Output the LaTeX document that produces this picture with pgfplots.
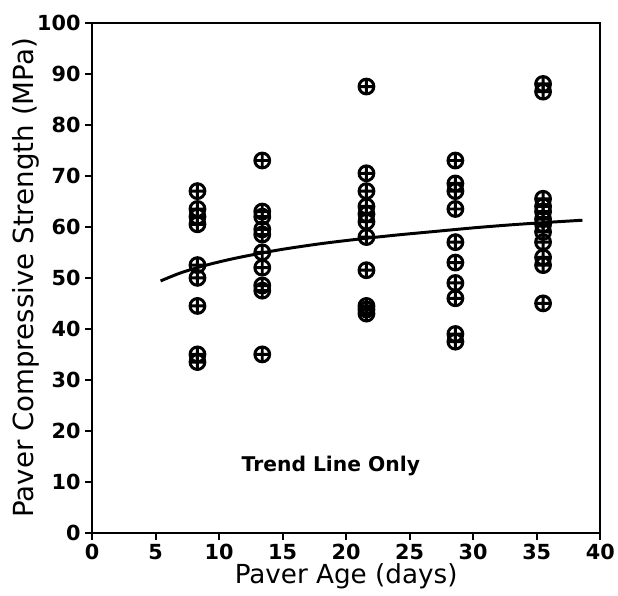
\documentclass[border=0pt]{standalone}
\usepackage{fontspec}
\setmainfont{DejaVu Sans}
\usepackage{pgfplots}
\pgfplotsset{compat=1.18}

\begin{document}
\begin{tikzpicture}
\begin{axis}[
    width=514pt, height=516pt,
    scale only axis,
    xmin=0, xmax=40, ymin=0, ymax=100,
    xtick={0,5,...,40},
    ytick={0,10,...,100},
    tick pos=left,
    tick align=outside,
    major tick length=7pt,
    axis line style={line width=2.2pt},
    every tick/.style={line width=2pt,black},
    /pgf/number format/assume math mode=true,
    tick label style={font=\fontsize{21}{24}\selectfont\bfseries},
    xticklabel style={yshift=-1pt},
    yticklabel style={xshift=-1pt},
    xlabel={Paver Age (days)},
    ylabel={Paver Compressive Strength (MPa)},
    xlabel style={font=\fontsize{26.5}{30}\selectfont,
      at={(axis description cs:0.5,-0.085)},anchor=center},
    ylabel style={font=\fontsize{28}{32}\selectfont,
      at={(axis description cs:-0.13,0.5)},anchor=center},
    clip=false,
]
\path[draw=none] (rel axis cs:-0.181,-0.122) rectangle (rel axis cs:1.02,1.0446);

% trend line
\addplot[black, line width=3pt, smooth, no marks] coordinates {
(5.4,49.4) (7,51.0) (9,52.5) (11,53.7) (13,54.7) (15,55.6) (18,56.7)
(21,57.6) (24,58.4) (27,59.1) (30,59.8) (33,60.4) (36,60.9) (38.6,61.3)
};

% measured strengths
\addplot[only marks, mark=oplus, mark size=7.5pt,
  mark options={line width=3pt, black}] coordinates {
(8.3,67) (8.3,63.5) (8.3,62) (8.3,60.5) (8.3,52.5) (8.3,50) (8.3,44.5) (8.3,35) (8.3,33.5)
(13.4,73) (13.4,63) (13.4,62) (13.4,59.5) (13.4,58.5) (13.4,55) (13.4,52) (13.4,48.5) (13.4,47.5) (13.4,35)
(21.6,87.5) (21.6,70.5) (21.6,67) (21.6,64) (21.6,62.5) (21.6,61) (21.6,58) (21.6,51.5) (21.6,44.5) (21.6,43.8) (21.6,43)
(28.6,73) (28.6,68.5) (28.6,67) (28.6,63.5) (28.6,57) (28.6,53) (28.6,49) (28.6,46) (28.6,39) (28.6,37.5)
(35.5,88) (35.5,86.5) (35.5,65.5) (35.5,64) (35.5,63) (35.5,61.5) (35.5,60.5) (35.5,59) (35.5,57) (35.5,54) (35.5,52.5) (35.5,45)
};

\node[font=\fontsize{20.5}{24}\selectfont\bfseries] at (axis cs:18.8,13.2) {Trend Line Only};
\end{axis}
\end{tikzpicture}
\end{document}
